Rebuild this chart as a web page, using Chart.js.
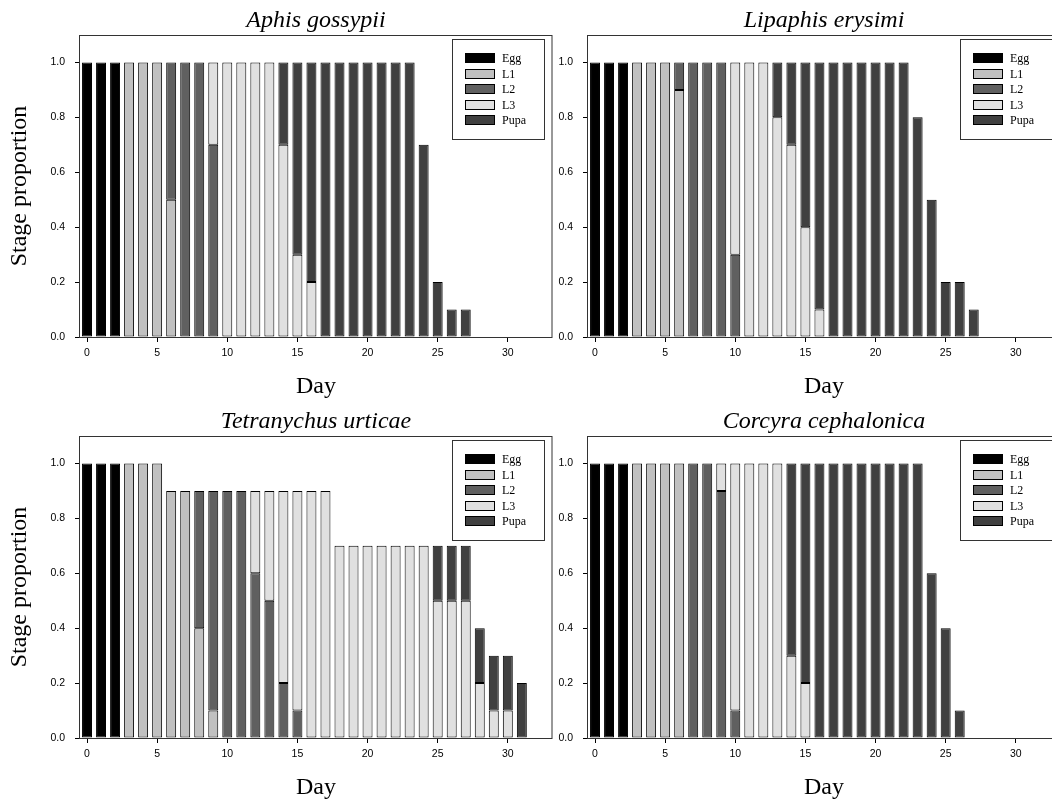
<!DOCTYPE html>
<html>
<head>
<meta charset="utf-8">
<script src="https://cdn.jsdelivr.net/npm/chart.js@4.4.1/dist/chart.umd.min.js"></script>
<style>
html, body { margin: 0; padding: 0; background: #fff; overflow: hidden; }
body { width: 1052px; height: 802px; position: relative; }
canvas { position: absolute; }
</style>
</head>
<body>
<canvas id="aphis" width="560" height="400" style="left:0;top:0"></canvas>
<canvas id="lipaphis" width="560" height="400" style="left:508px;top:0"></canvas>
<canvas id="tetranychus" width="560" height="400" style="left:0;top:401px"></canvas>
<canvas id="corcyra" width="560" height="400" style="left:508px;top:401px"></canvas>
<script>
const days = [0,1,2,3,4,5,6,7,8,9,10,11,12,13,14,15,16,17,18,19,20,21,22,23,24,25,26,27,28,29,30,31];
const stages = ['Egg', 'L1', 'L2', 'L3', 'Pupa'];
const stageColors = ['#000000', '#c0c0c0', '#606060', '#e0e0e0', '#404040'];
const xTicks = [0, 5, 10, 15, 20, 25, 30];
const yTicks = [0, 0.2, 0.4, 0.6, 0.8, 1.0];

// Aphis gossypii
const aphisEgg  = [1,1,1,0,0,0,0,0,0,0, 0,0,0,0,0,0,0,0,0,0, 0,0,0,0,0,0,0,0,0,0, 0,0];
const aphisL1   = [0,0,0,1,1,1,0.5,0,0,0, 0,0,0,0,0,0,0,0,0,0, 0,0,0,0,0,0,0,0,0,0, 0,0];
const aphisL2   = [0,0,0,0,0,0,0.5,1,1,0.7, 0,0,0,0,0,0,0,0,0,0, 0,0,0,0,0,0,0,0,0,0, 0,0];
const aphisL3   = [0,0,0,0,0,0,0,0,0,0.3, 1,1,1,1,0.7,0.3,0.2,0,0,0, 0,0,0,0,0,0,0,0,0,0, 0,0];
const aphisPupa = [0,0,0,0,0,0,0,0,0,0, 0,0,0,0,0.3,0.7,0.8,1,1,1, 1,1,1,1,0.7,0.2,0.1,0.1,0,0, 0,0];

// Lipaphis erysimi
const lipaphisEgg  = [1,1,1,0,0,0,0,0,0,0, 0,0,0,0,0,0,0,0,0,0, 0,0,0,0,0,0,0,0,0,0, 0,0];
const lipaphisL1   = [0,0,0,1,1,1,0.9,0,0,0, 0,0,0,0,0,0,0,0,0,0, 0,0,0,0,0,0,0,0,0,0, 0,0];
const lipaphisL2   = [0,0,0,0,0,0,0.1,1,1,1, 0.3,0,0,0,0,0,0,0,0,0, 0,0,0,0,0,0,0,0,0,0, 0,0];
const lipaphisL3   = [0,0,0,0,0,0,0,0,0,0, 0.7,1,1,0.8,0.7,0.4,0.1,0,0,0, 0,0,0,0,0,0,0,0,0,0, 0,0];
const lipaphisPupa = [0,0,0,0,0,0,0,0,0,0, 0,0,0,0.2,0.3,0.6,0.9,1,1,1, 1,1,1,0.8,0.5,0.2,0.2,0.1,0,0, 0,0];

// Tetranychus urticae
const tetraEgg  = [1,1,1,0,0,0,0,0,0,0, 0,0,0,0,0,0,0,0,0,0, 0,0,0,0,0,0,0,0,0,0, 0,0];
const tetraL1   = [0,0,0,1,1,1,0.9,0.9,0.4,0.1, 0,0,0,0,0,0,0,0,0,0, 0,0,0,0,0,0,0,0,0,0, 0,0];
const tetraL2   = [0,0,0,0,0,0,0,0,0.5,0.8, 0.9,0.9,0.6,0.5,0.2,0.1,0,0,0,0, 0,0,0,0,0,0,0,0,0,0, 0,0];
const tetraL3   = [0,0,0,0,0,0,0,0,0,0, 0,0,0.3,0.4,0.7,0.8,0.9,0.9,0.7,0.7, 0.7,0.7,0.7,0.7,0.7,0.5,0.5,0.5,0.2,0.1, 0.1,0];
const tetraPupa = [0,0,0,0,0,0,0,0,0,0, 0,0,0,0,0,0,0,0,0,0, 0,0,0,0,0,0.2,0.2,0.2,0.2,0.2, 0.2,0.2];

// Corcyra cephalonica
const corcyraEgg  = [1,1,1,0,0,0,0,0,0,0, 0,0,0,0,0,0,0,0,0,0, 0,0,0,0,0,0,0,0,0,0, 0,0];
const corcyraL1   = [0,0,0,1,1,1,1,0,0,0, 0,0,0,0,0,0,0,0,0,0, 0,0,0,0,0,0,0,0,0,0, 0,0];
const corcyraL2   = [0,0,0,0,0,0,0,1,1,0.9, 0.1,0,0,0,0,0,0,0,0,0, 0,0,0,0,0,0,0,0,0,0, 0,0];
const corcyraL3   = [0,0,0,0,0,0,0,0,0,0.1, 0.9,1,1,1,0.3,0.2,0,0,0,0, 0,0,0,0,0,0,0,0,0,0, 0,0];
const corcyraPupa = [0,0,0,0,0,0,0,0,0,0, 0,0,0,0,0.7,0.8,1,1,1,1, 1,1,1,1,0.6,0.4,0.1,0,0,0, 0,0];

const serif = 'Liberation Serif, Times New Roman, serif';
const sans = 'Liberation Sans, Arial, sans-serif';

// box round the plot area
const framePlugin = {
    id: 'frame',
    afterDatasetsDraw(chart) {
        const { ctx, chartArea: a } = chart;
        ctx.save();
        ctx.strokeStyle = '#333';
        ctx.lineWidth = 1;
        ctx.strokeRect(a.left - 0.5, a.top + 0.5, a.right - a.left + 0.5, a.bottom - a.top);
        ctx.restore();
    }
};

// legend box in the top right corner of the plot
const stageLegend = {
    id: 'stageLegend',
    afterDraw(chart) {
        const { ctx, chartArea: a } = chart;
        const left = a.right - 100, top = a.top + 4, w = 92, h = 100;
        ctx.save();
        ctx.fillStyle = '#fff';
        ctx.fillRect(left, top, w, h);
        ctx.strokeStyle = '#333';
        ctx.lineWidth = 1;
        ctx.strokeRect(left + 0.5, top + 0.5, w, h);
        ctx.font = '12px ' + serif;
        ctx.textBaseline = 'middle';
        chart.data.datasets.forEach((ds, i) => {
            const cy = Math.round(top + 19 + i * 15.6);
            ctx.fillStyle = ds.backgroundColor;
            ctx.fillRect(left + 13, cy - 5, 30, 10);
            ctx.strokeStyle = '#000';
            ctx.strokeRect(left + 13.5, cy - 4.5, 29, 9);
            ctx.fillStyle = '#000';
            ctx.fillText(ds.label, left + 50, cy + 1);
        });
        ctx.restore();
    }
};

function makeChart(id, title, series, showYTitle) {
    const ctx = document.getElementById(id).getContext('2d');
    new Chart(ctx, {
        type: 'bar',
        data: {
            labels: days,
            datasets: stages.map((name, i) => ({
                label: name,
                data: series[i].map(v => v === 0 ? null : v),
                backgroundColor: stageColors[i],
                borderColor: '#000',
                borderWidth: 1,
                borderSkipped: false,
                barPercentage: 0.71,
                categoryPercentage: 1.0
            }))
        },
        options: {
            responsive: false,
            animation: false,
            events: [],
            layout: { padding: { top: 0, right: 8, bottom: 0, left: 0 } },
            plugins: {
                legend: { display: false },
                tooltip: { enabled: false },
                title: {
                    display: true,
                    text: title,
                    fullSize: false,
                    color: '#000',
                    font: { family: serif, size: 24, style: 'italic', weight: 'normal', lineHeight: 1 },
                    padding: { top: 9, bottom: 2 }
                }
            },
            scales: {
                x: {
                    type: 'linear',
                    stacked: true,
                    offset: false,
                    min: -0.5,
                    max: 33.15,
                    afterFit: s => { s.height = 63; },
                    afterBuildTicks: s => { s.ticks = xTicks.map(v => ({ value: v })); },
                    ticks: { color: '#000', font: { family: sans, size: 10.5 }, padding: 5, maxRotation: 0 },
                    grid: { offset: false, drawOnChartArea: false, tickLength: 5, color: '#000' },
                    border: { display: false },
                    title: {
                        display: true,
                        text: 'Day',
                        color: '#000',
                        font: { family: serif, size: 24, weight: 'normal', lineHeight: 1 },
                        padding: { top: 0, bottom: 1 }
                    }
                },
                y: {
                    stacked: true,
                    min: 0,
                    max: 1.1,
                    afterFit: s => { s.width = 80; },
                    afterBuildTicks: s => { s.ticks = yTicks.map(v => ({ value: v })); },
                    ticks: { color: '#000', font: { family: sans, size: 10.5 }, padding: 10, callback: v => v.toFixed(1) },
                    grid: { drawOnChartArea: false, tickLength: 5, color: '#000' },
                    border: { display: false },
                    title: {
                        display: showYTitle,
                        text: 'Stage proportion',
                        color: '#000',
                        font: { family: serif, size: 24, weight: 'normal', lineHeight: 1 },
                        padding: { top: 8, bottom: 0 }
                    }
                }
            }
        },
        plugins: [framePlugin, stageLegend]
    });
}

makeChart('aphis', 'Aphis gossypii', [aphisEgg, aphisL1, aphisL2, aphisL3, aphisPupa], true);
makeChart('lipaphis', 'Lipaphis erysimi', [lipaphisEgg, lipaphisL1, lipaphisL2, lipaphisL3, lipaphisPupa], false);
makeChart('tetranychus', 'Tetranychus urticae', [tetraEgg, tetraL1, tetraL2, tetraL3, tetraPupa], true);
makeChart('corcyra', 'Corcyra cephalonica', [corcyraEgg, corcyraL1, corcyraL2, corcyraL3, corcyraPupa], false);
</script>
</body>
</html>
